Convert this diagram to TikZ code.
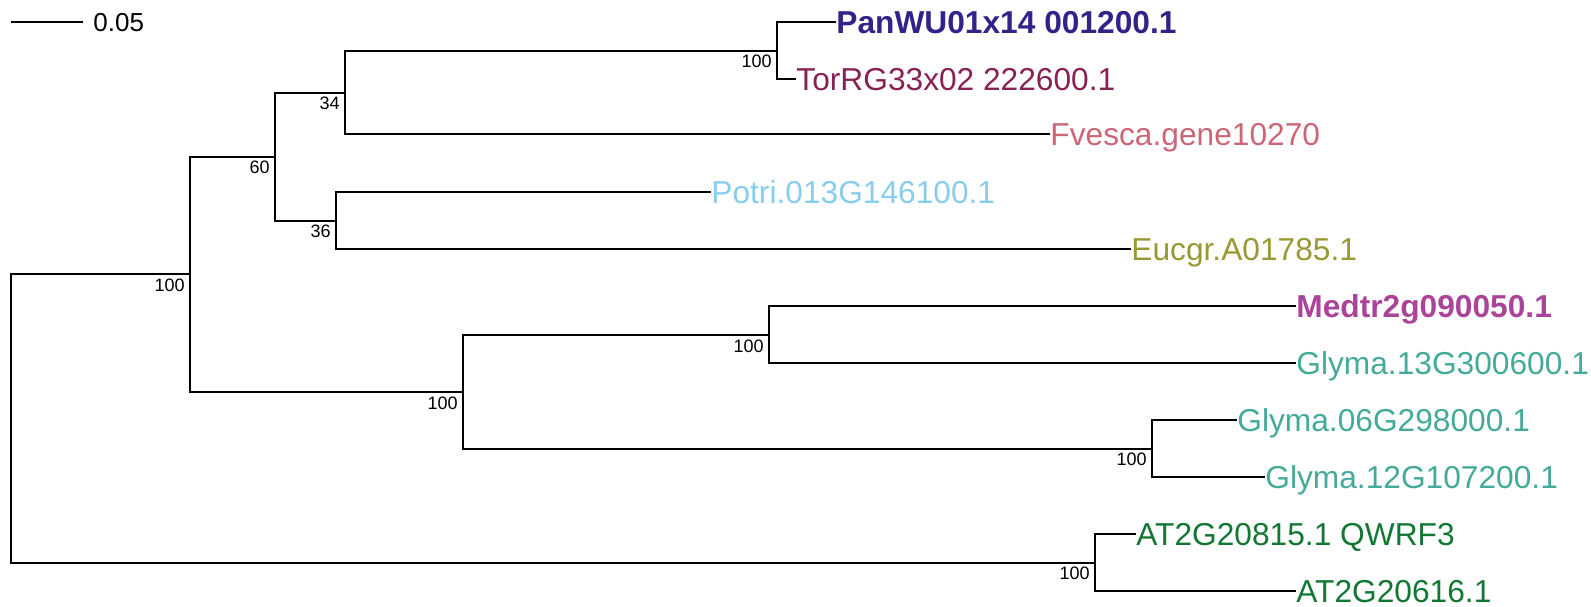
\documentclass[tikz,border=0pt]{standalone}
\usepackage{fontspec}
\setmainfont{Liberation Sans}
\usepackage{tikz}
\usetikzlibrary{positioning}

\definecolor{cIndigo}{HTML}{332288}
\definecolor{cWine}{HTML}{882255}
\definecolor{cRose}{HTML}{CC6677}
\definecolor{cCyan}{HTML}{88CCEE}
\definecolor{cOlive}{HTML}{999933}
\definecolor{cPurple}{HTML}{AA4499}
\definecolor{cTeal}{HTML}{44AA99}
\definecolor{cGreen}{HTML}{117733}

\begin{document}
\begin{tikzpicture}[
  x=0.5pt, y=-0.5pt,
  leaf/.style={anchor=base west, inner sep=0.5pt, yshift=-5.67pt,
               font=\fontsize{15.85pt}{18pt}\selectfont},
  boldleaf/.style={leaf, font=\fontsize{15.85pt}{18pt}\selectfont\bfseries},
  boot/.style={anchor=base east, inner sep=0pt, xshift=-2.5pt, yshift=-8.5pt,
               font=\fontsize{9pt}{11pt}\selectfont},
  br/.style={line width=1pt, line cap=rect},
]
\useasboundingbox (0,0) rectangle (1591,606);

% scale bar
\coordinate (sbl) at (11,22);
\coordinate (sbr) at (83,22);
\draw[line width=1pt] (sbl) -- (sbr);
\node[anchor=base west, inner sep=0pt, font=\fontsize{13pt}{15pt}\selectfont]
  (sblab) at (93,31.3) {0.05};

% internal nodes
\coordinate (root) at (11,418.5);
\coordinate (nA)   at (190,274.3);
\coordinate (n60)  at (275,156.7);
\coordinate (n34)  at (345,92.7);
\coordinate (nPT)  at (777,50.5);
\coordinate (n36)  at (336,220.5);
\coordinate (nB)   at (463,392);
\coordinate (nC)   at (769,335);
\coordinate (nD)   at (1152,448.5);
\coordinate (nE)   at (1095,562.5);

% leaf tips
\coordinate (tpan) at (835,22);
\coordinate (ttor) at (795,79);
\coordinate (tfve) at (1049,134);
\coordinate (tpot) at (710,192);
\coordinate (teuc) at (1130,249);
\coordinate (tmed) at (1295,306);
\coordinate (tg13) at (1295,363);
\coordinate (tg06) at (1236,420);
\coordinate (tg12) at (1264,477);
\coordinate (tqwr) at (1135,534);
\coordinate (tat6) at (1295,591);

% leaf labels
\node[boldleaf, text=cIndigo] (pan) at (tpan) {PanWU01x14 001200.1};
\node[leaf, text=cWine]   (tor) at (ttor) {TorRG33x02 222600.1};
\node[leaf, text=cRose]   (fve) at (tfve) {Fvesca.gene10270};
\node[leaf, text=cCyan]   (pot) at (tpot) {Potri.013G146100.1};
\node[leaf, text=cOlive]  (euc) at (teuc) {Eucgr.A01785.1};
\node[boldleaf, text=cPurple] (med) at (tmed) {Medtr2g090050.1};
\node[leaf, text=cTeal]   (g13) at (tg13) {Glyma.13G300600.1};
\node[leaf, text=cTeal]   (g06) at (tg06) {Glyma.06G298000.1};
\node[leaf, text=cTeal]   (g12) at (tg12) {Glyma.12G107200.1};
\node[leaf, text=cGreen]  (qwr) at (tqwr) {AT2G20815.1 QWRF3};
\node[leaf, text=cGreen]  (at6) at (tat6) {AT2G20616.1};

% branches
\draw[br] (root) |- (nA);  \draw[br] (root) |- (nE);
\draw[br] (nA) |- (n60);   \draw[br] (nA) |- (nB);
\draw[br] (n60) |- (n34);  \draw[br] (n60) |- (n36);
\draw[br] (n34) |- (nPT);  \draw[br] (n34) |- (tfve);
\draw[br] (nPT) |- (tpan); \draw[br] (nPT) |- (ttor);
\draw[br] (n36) |- (tpot); \draw[br] (n36) |- (teuc);
\draw[br] (nB) |- (nC);    \draw[br] (nB) |- (nD);
\draw[br] (nC) |- (tmed);  \draw[br] (nC) |- (tg13);
\draw[br] (nD) |- (tg06);  \draw[br] (nD) |- (tg12);
\draw[br] (nE) |- (tqwr);  \draw[br] (nE) |- (tat6);

% bootstrap values
\node[boot] (bA)  at (nA)  {100};
\node[boot] (b60) at (n60) {60};
\node[boot] (b34) at (n34) {34};
\node[boot] (bPT) at (nPT) {100};
\node[boot] (b36) at (n36) {36};
\node[boot] (bB)  at (nB)  {100};
\node[boot] (bC)  at (nC)  {100};
\node[boot] (bD)  at (nD)  {100};
\node[boot] (bE)  at (nE)  {100};
\end{tikzpicture}
\end{document}
